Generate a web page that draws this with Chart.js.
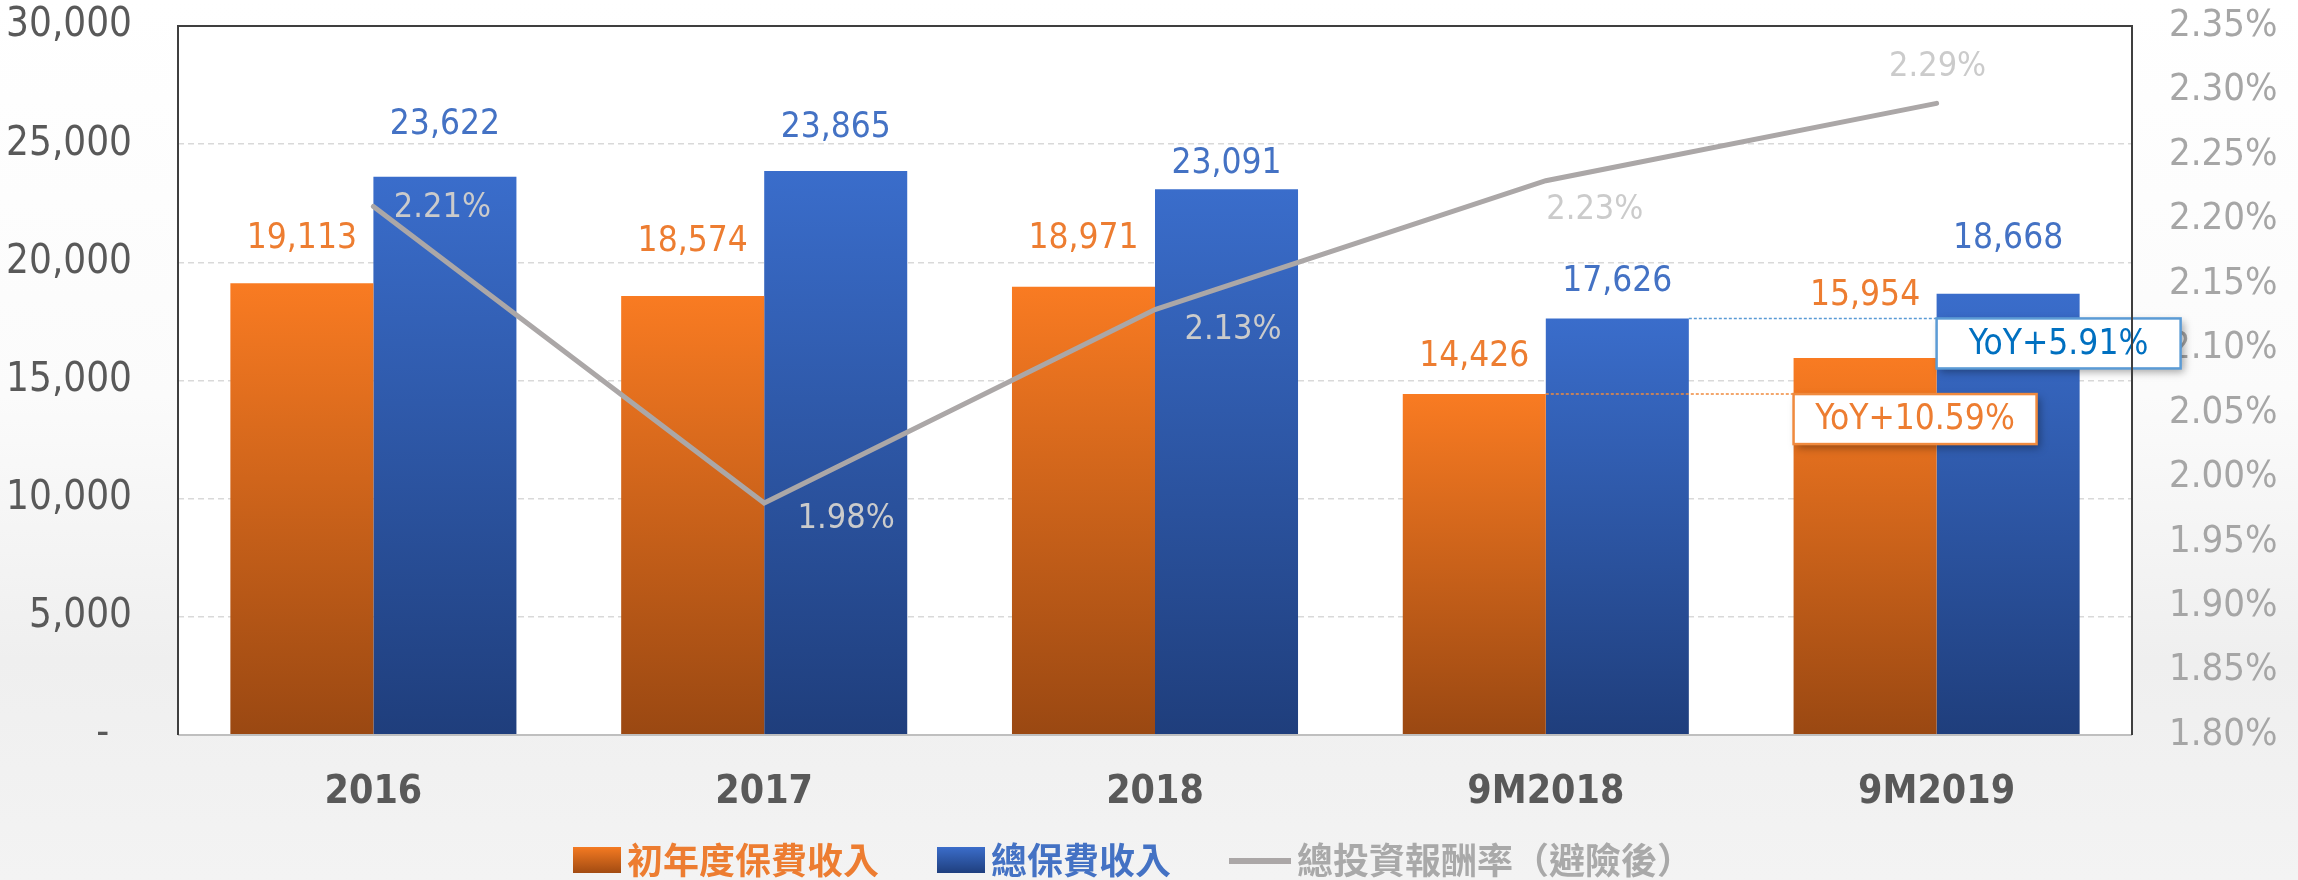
<!DOCTYPE html>
<html>
<head>
<meta charset="utf-8">
<script src="https://cdn.jsdelivr.net/npm/chart.js@4.4.1/dist/chart.umd.min.js"></script>
<style>
  html, body { margin: 0; padding: 0; }
  body {
    width: 2298px; height: 880px; overflow: hidden;
    background: linear-gradient(180deg, #ffffff 0%, #fbfbfb 45%, #efefef 75%, #f3f3f3 100%);
  }
  #wrap { position: relative; width: 2298px; height: 880px; }
</style>
</head>
<body>
<div id="wrap"><canvas id="c" width="2298" height="880"></canvas></div>
<script>
// ---------- data ----------
const categories = ['2016', '2017', '2018', '9M2018', '9M2019'];
const firstYearPremium = [19113, 18574, 18971, 14426, 15954];   // 初年度保費收入
const totalPremium = [23622, 23865, 23091, 17626, 18668];       // 總保費收入
const investReturn = [2.21, 1.98, 2.13, 2.23, 2.29];            // 總投資報酬率（避險後）
const seriesNames = ['初年度保費收入', '總保費收入', '總投資報酬率（避險後）'];
const leftTicks = [0, 5000, 10000, 15000, 20000, 25000, 30000];
const rightTicks = [1.80, 1.85, 1.90, 1.95, 2.00, 2.05, 2.10, 2.15, 2.20, 2.25, 2.30, 2.35];

// ---------- styles ----------
const NUM_FONT = "'Liberation Sans Narrow', 'Arial Narrow', 'DejaVu Sans Condensed', 'Noto Sans', sans-serif";
const CJK_FONT = "'Noto Sans CJK TC', 'Noto Sans CJK SC', sans-serif";
const ORANGE = '#ED7D31', BLUE = '#4472C4', GRAY_LINE = '#ABA7A7';
// label offsets (pixels, style only)
const orangeLabelLift = [44, 54, 48, 37, 62];
const blueLabelLift = [52, 43, 25, 37, 55];
const lineLabelShift = [[69, 2], [82, 16], [78, 21], [49, 29], [1, -36]];

function barGradient(ctx, top, bottom, c1, c2) {
  const g = ctx.createLinearGradient(0, top, 0, bottom);
  g.addColorStop(0, c1);
  g.addColorStop(1, c2);
  return g;
}
function barFill(c1, c2) {
  return function (context) {
    const chart = context.chart;
    const ca = chart.chartArea;
    if (!ca || context.type !== 'data') return c1;
    const v = context.raw;
    const top = chart.scales.y.getPixelForValue(v);
    return barGradient(chart.ctx, top, ca.bottom, c1, c2);
  };
}

const plotBgPlugin = {
  id: 'plotBg',
  beforeDraw(chart) {
    const { ctx, chartArea: a } = chart;
    ctx.save();
    ctx.fillStyle = 'rgba(255,255,255,0.96)';
    ctx.fillRect(a.left, a.top, a.right - a.left, a.bottom - a.top);
    ctx.restore();
  },
  afterDraw(chart) {
    const { ctx, chartArea: a } = chart;
    ctx.save();
    ctx.lineWidth = 2;
    ctx.strokeStyle = '#BFBFBF';
    ctx.beginPath();
    ctx.moveTo(a.left, a.bottom); ctx.lineTo(a.right, a.bottom);
    ctx.stroke();
    ctx.strokeStyle = '#3F3F3F';
    ctx.beginPath();
    ctx.moveTo(a.left, a.bottom); ctx.lineTo(a.left, a.top);
    ctx.lineTo(a.right, a.top); ctx.lineTo(a.right, a.bottom);
    ctx.stroke();
    ctx.restore();
  }
};

const labelsPlugin = {
  id: 'valueLabels',
  afterDatasetsDraw(chart) {
    const ctx = chart.ctx;
    ctx.save();
    ctx.textAlign = 'center';
    ctx.textBaseline = 'middle';
    const m0 = chart.getDatasetMeta(0), m1 = chart.getDatasetMeta(1), m2 = chart.getDatasetMeta(2);
    ctx.font = '35px ' + NUM_FONT;
    m0.data.forEach((el, i) => {
      ctx.fillStyle = ORANGE;
      ctx.fillText(firstYearPremium[i].toLocaleString('en-US'), el.x, el.y - orangeLabelLift[i]);
    });
    m1.data.forEach((el, i) => {
      ctx.fillStyle = BLUE;
      ctx.fillText(totalPremium[i].toLocaleString('en-US'), el.x, el.y - blueLabelLift[i]);
    });
    ctx.font = '34px ' + NUM_FONT;
    ctx.fillStyle = '#CBCBCB';
    m2.data.forEach((el, i) => {
      ctx.fillText(investReturn[i].toFixed(2) + '%', el.x + lineLabelShift[i][0], el.y + lineLabelShift[i][1]);
    });

    // YoY annotations (last period vs prior period)
    const n = categories.length - 1, p = n - 1;
    function yoy(meta, vals, border, color, boxW, boxH) {
      const prev = meta.data[p], cur = meta.data[n];
      const y = prev.y;
      const x0 = prev.x + prev.width / 2;
      const x1 = cur.x - cur.width / 2;
      ctx.save();
      ctx.strokeStyle = border;
      ctx.lineWidth = 1.5;
      ctx.setLineDash([3, 2]);
      ctx.beginPath();
      ctx.moveTo(x0, y); ctx.lineTo(x1, y);
      ctx.stroke();
      ctx.setLineDash([]);
      ctx.shadowColor = 'rgba(0,0,0,0.35)';
      ctx.shadowBlur = 8;
      ctx.shadowOffsetX = 3;
      ctx.shadowOffsetY = 4;
      ctx.fillStyle = '#ffffff';
      ctx.fillRect(x1, y, boxW, boxH);
      ctx.shadowColor = 'transparent';
      ctx.lineWidth = 2.5;
      ctx.strokeStyle = border;
      ctx.strokeRect(x1, y, boxW, boxH);
      const pct = ((vals[n] / vals[p] - 1) * 100).toFixed(2);
      ctx.fillStyle = color;
      ctx.font = '35px ' + NUM_FONT;
      ctx.textAlign = 'center';
      ctx.textBaseline = 'middle';
      ctx.fillText('YoY+' + pct + '%', x1 + boxW / 2, y + boxH / 2 + 1);
      ctx.restore();
    }
    yoy(m1, totalPremium, '#5B9BD5', '#0070C0', 244, 50);
    yoy(m0, firstYearPremium, '#F08A3E', '#ED7D31', 243, 50);
    ctx.restore();
  }
};

const legendPlugin = {
  id: 'customLegend',
  afterDraw(chart) {
    const ctx = chart.ctx;
    ctx.save();
    ctx.font = 'bold 36px ' + CJK_FONT;
    ctx.textBaseline = 'middle';
    const yc = 860, boxW = 48, boxH = 26, gapT = 6, gapItem = 58;
    const widths = seriesNames.map(s => ctx.measureText(s).width);
    const symW = [boxW, boxW, 62];
    let total = 0;
    widths.forEach((w, i) => { total += symW[i] + gapT + w; });
    total += gapItem * (widths.length - 1);
    let x = 1133 - total / 2;
    const colors = [ORANGE, BLUE, '#A9A9A9'];
    seriesNames.forEach((name, i) => {
      if (i === 0) {
        ctx.fillStyle = barGradient(ctx, yc - boxH / 2, yc + boxH / 2, '#F47A22', '#A24B12');
        ctx.fillRect(x, yc - boxH / 2, boxW, boxH);
      } else if (i === 1) {
        ctx.fillStyle = barGradient(ctx, yc - boxH / 2, yc + boxH / 2, '#3B6DCA', '#1F3F7E');
        ctx.fillRect(x, yc - boxH / 2, boxW, boxH);
      } else {
        ctx.strokeStyle = GRAY_LINE;
        ctx.lineWidth = 6;
        ctx.beginPath();
        ctx.moveTo(x, yc + 1); ctx.lineTo(x + symW[i], yc + 1);
        ctx.stroke();
      }
      x += symW[i] + gapT;
      ctx.fillStyle = colors[i];
      ctx.textAlign = 'left';
      ctx.fillText(name, x, yc);
      x += widths[i] + gapItem;
    });
    ctx.restore();
  }
};

function noPad(s) { s.paddingTop = 0; s.paddingBottom = 0; s.paddingLeft = 0; s.paddingRight = 0; }

const chart = new Chart(document.getElementById('c'), {
  type: 'bar',
  data: {
    labels: categories,
    datasets: [
      {
        label: seriesNames[0], data: firstYearPremium, yAxisID: 'y', order: 2,
        backgroundColor: barFill('#F97B22', '#9A4812'),
        categoryPercentage: 0.732, barPercentage: 1.0
      },
      {
        label: seriesNames[1], data: totalPremium, yAxisID: 'y', order: 2,
        backgroundColor: barFill('#3A6DCB', '#1F3E7C'),
        categoryPercentage: 0.732, barPercentage: 1.0
      },
      {
        type: 'line', label: seriesNames[2], data: investReturn, yAxisID: 'y1', order: 1,
        borderColor: GRAY_LINE, borderWidth: 5, pointRadius: 0, tension: 0, fill: false,
        borderCapStyle: 'round'
      }
    ]
  },
  options: {
    responsive: false,
    animation: false,
    layout: { padding: { top: 26, left: 0, right: 0, bottom: 0 } },
    plugins: { legend: { display: false }, tooltip: { enabled: false } },
    scales: {
      x: {
        grid: { display: false, drawTicks: false },
        border: { display: false },
        ticks: {
          color: '#595959', padding: 34,
          font: { family: NUM_FONT, size: 39, weight: 'bold' }
        },
        afterFit(s) { s.height = 145; noPad(s); }
      },
      y: {
        position: 'left', min: 0, max: 30000,
        afterBuildTicks(s) { s.ticks = leftTicks.map(v => ({ value: v })); },
        grid: { color: '#D9D9D9', lineWidth: 1.5, drawTicks: false },
        border: { display: false, dash: [6, 4] },
        ticks: {
          color: '#595959', padding: 46,
          font: { family: NUM_FONT, size: 40 },
          callback: v => v === 0 ? '-  ' : v.toLocaleString('en-US')
        },
        afterFit(s) { s.width = 178; noPad(s); }
      },
      y1: {
        position: 'right', min: 1.80, max: 2.35,
        afterBuildTicks(s) { s.ticks = rightTicks.map(v => ({ value: v })); },
        grid: { display: false, drawTicks: false },
        border: { display: false },
        ticks: {
          color: '#A6A6A6', padding: 37,
          font: { family: NUM_FONT, size: 38 },
          callback: v => Number(v).toFixed(2) + '%'
        },
        afterFit(s) { s.width = 166; noPad(s); }
      }
    }
  },
  plugins: [plotBgPlugin, labelsPlugin, legendPlugin]
});
</script>
</body>
</html>
